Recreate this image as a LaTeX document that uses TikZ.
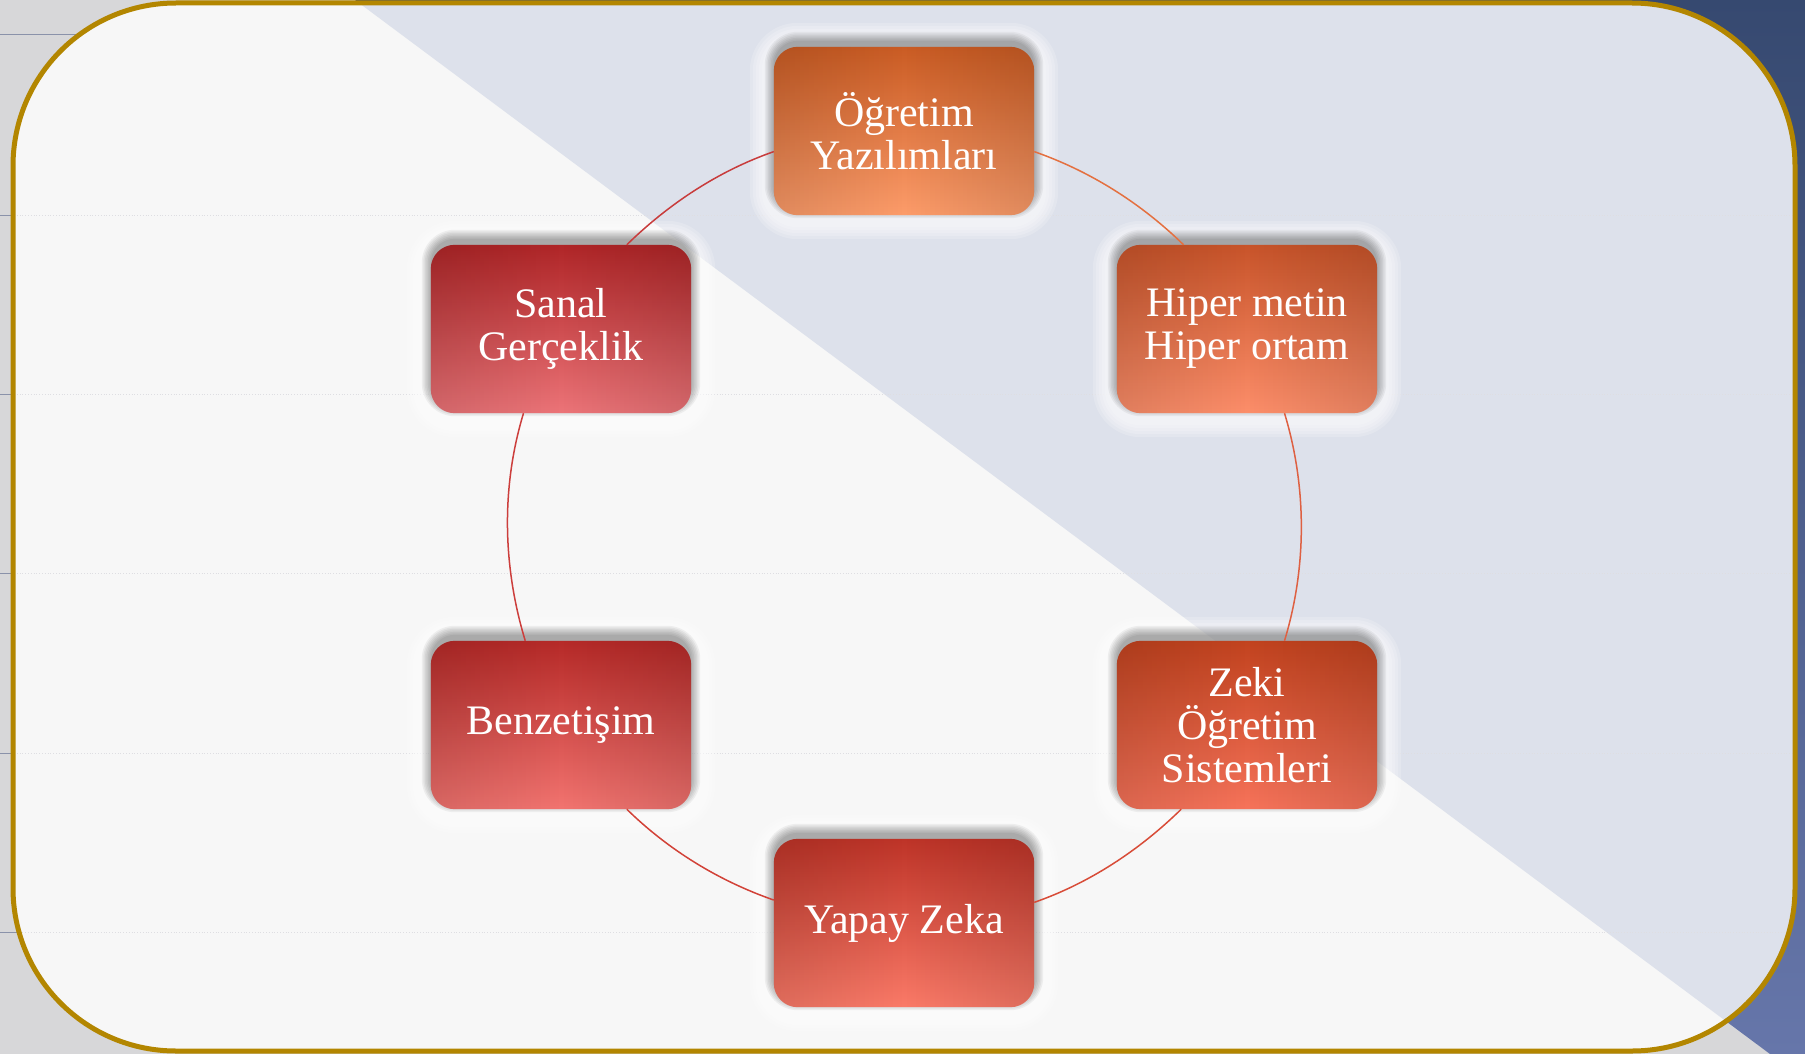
\documentclass[tikz,border=0pt]{standalone}
\usepackage{fontspec}
\setmainfont{Liberation Serif}
\usetikzlibrary{fadings}
\definecolor{bggray}{HTML}{D7D7D9}
\definecolor{blueA}{HTML}{364970}
\definecolor{blueB}{HTML}{6676AA}
\definecolor{goldb}{HTML}{B38600}
\definecolor{paper}{HTML}{F7F7F7}
\definecolor{patblue}{HTML}{DDE1EB}
\definecolor{gline}{HTML}{8A92AA}
\definecolor{dline}{HTML}{DEDEE2}
\definecolor{c1}{HTML}{E47040}
\definecolor{c2}{HTML}{DE6042}
\definecolor{c3}{HTML}{D84C38}
\definecolor{c4}{HTML}{D24238}
\definecolor{c5}{HTML}{CC3E3C}
\definecolor{c6}{HTML}{C83C3C}
% node fills: top / middle / bottom
\definecolor{ogT}{HTML}{CA5C24}\definecolor{ogM}{HTML}{E67A40}\definecolor{ogB}{HTML}{FC9C6A}
\definecolor{hiT}{HTML}{C8542A}\definecolor{hiM}{HTML}{E46C44}\definecolor{hiB}{HTML}{FC8E6A}
\definecolor{zeT}{HTML}{C2431F}\definecolor{zeM}{HTML}{DE5A3C}\definecolor{zeB}{HTML}{F6735A}
\definecolor{yaT}{HTML}{BE3428}\definecolor{yaM}{HTML}{DC5246}\definecolor{yaB}{HTML}{FA7A68}
\definecolor{beT}{HTML}{B62A28}\definecolor{beM}{HTML}{D44846}\definecolor{beB}{HTML}{F27470}
\definecolor{saT}{HTML}{B02628}\definecolor{saM}{HTML}{CE4248}\definecolor{saB}{HTML}{EC7478}
\pgfdeclarelayer{bg}
\pgfdeclarelayer{shadowlayer}
\pgfdeclarelayer{boxfill}
\pgfsetlayers{bg,shadowlayer,boxfill,main}
\tikzfading[name=sidefade, left color=transparent!0, right color=transparent!0, middle color=transparent!100]
\tikzset{
  box/.style={minimum width=260pt, minimum height=168pt,
    text=white, align=center, font=\fontsize{42}{43}\selectfont, inner sep=0pt},
  conn/.style={line width=1.5pt},
}
\newcommand{\boxdeco}[4]{%
  \begin{pgfonlayer}{shadowlayer}
    \foreach \k in {24,21,...,12}
      \fill[white, opacity=0.18, rounded corners=24pt+\k pt]
        ([shift={(-\k pt,-\k pt)}]#1.south west) rectangle ([shift={(\k pt,\k pt)}]#1.north east);
    \foreach \k in {9,7.5,...,0}
      \fill[black, opacity=0.05, rounded corners=24pt+\k pt]
        ([shift={(-\k pt,-\k pt+6pt)}]#1.south west) rectangle ([shift={(\k pt,\k pt+6pt)}]#1.north east);
  \end{pgfonlayer}
  \begin{pgfonlayer}{boxfill}
    \shade[top color=#2, middle color=#3, bottom color=#4, rounded corners=24pt]
      (#1.south west) rectangle (#1.north east);
    \fill[black, fill opacity=0.11, path fading=sidefade, rounded corners=24pt]
      (#1.south west) rectangle (#1.north east);
  \end{pgfonlayer}
}
\begin{document}
\begin{tikzpicture}[x=1pt,y=-1pt]
\useasboundingbox (0,0) rectangle (1805,1054);
\begin{pgfonlayer}{bg}
% background
\fill[bggray] (0,0) rectangle (1805,1054);
\shade[top color=blueA, bottom color=blueB] (355,0) -- (1805,0) -- (1805,1054) -- (1770,1054) -- cycle;
\foreach \yy in {35,215,394,573,753,932}
  \draw[gline, line width=1pt] (0,\yy) -- (90,\yy);
% frame
\fill[paper, rounded corners=163pt] (13,3) rectangle (1795,1051);
\begin{scope}
  \clip[rounded corners=163pt] (13,3) rectangle (1795,1051);
  \fill[patblue] (355,0) -- (1805,0) -- (1805,1054) -- (1770,1054) -- cycle;
  \foreach \yy in {215,394,573,753,932}
    \draw[dline, line width=0.8pt, dotted] (0,\yy) -- (1805,\yy);
\end{scope}
\draw[goldb, line width=5pt, rounded corners=163pt] (13,3) rectangle (1795,1051);
\end{pgfonlayer}
% nodes
\node[box] (n1) at (904,131) {Öğretim\\Yazılımları};
\node[box] (n2) at (1247,329) {Hiper metin\\Hiper ortam};
\node[box] (n3) at (1247,725) {Zeki\\Öğretim\\Sistemleri};
\node[box] (n4) at (904,923) {Yapay Zeka};
\node[box] (n5) at (561,725) {Benzetişim};
\node[box] (n6) at (561,329) {Sanal\\Gerçeklik};
\boxdeco{n1}{ogT}{ogM}{ogB}
\boxdeco{n2}{hiT}{hiM}{hiB}
\boxdeco{n3}{zeT}{zeM}{zeB}
\boxdeco{n4}{yaT}{yaM}{yaB}
\boxdeco{n5}{beT}{beM}{beB}
\boxdeco{n6}{saT}{saM}{saB}
% connectors (arcs of one circle)
\draw[conn, draw=c1] (n1.-9.6) to[out=-19.2, in=135.6, looseness=0.862] (n2.127.8);
\draw[conn, draw=c2] (n2.-66.8) to[out=-73.1, in=73.1, looseness=0.870] (n3.66.8);
\draw[conn, draw=c3] (n3.232.2) to[out=-135.6, in=19.2, looseness=0.862] (n4.9.6);
\draw[conn, draw=c4] (n4.170.4) to[out=160.8, in=-44.4, looseness=0.862] (n5.-52.2);
\draw[conn, draw=c5] (n5.113.2) to[out=106.9, in=253.1, looseness=0.870] (n6.246.8);
\draw[conn, draw=c6] (n6.52.2) to[out=44.4, in=199.2, looseness=0.862] (n1.189.6);
\end{tikzpicture}
\end{document}
